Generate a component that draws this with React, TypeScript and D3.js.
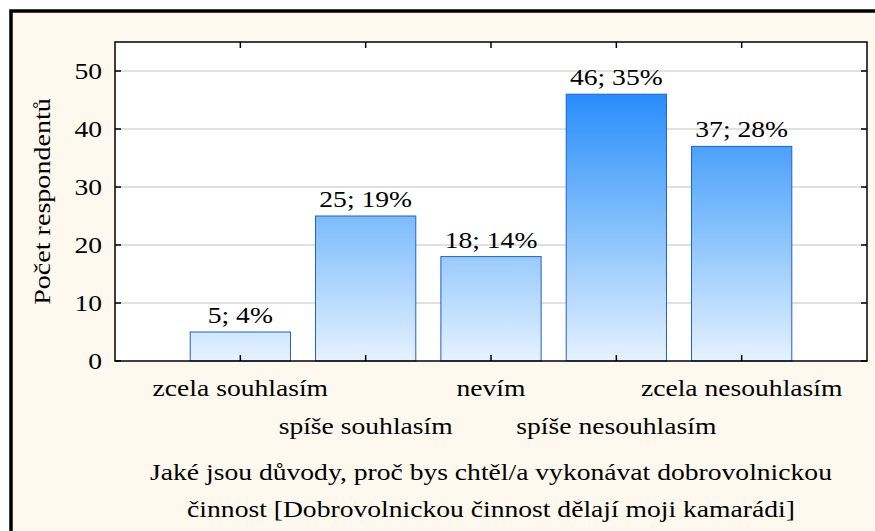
import React from "react";
import * as d3 from "d3";

const categories = [
  "zcela souhlasím",
  "spíše souhlasím",
  "nevím",
  "spíše nesouhlasím",
  "zcela nesouhlasím",
];
const counts = [5, 25, 18, 46, 37];
const percents = [4, 19, 14, 35, 28];
const yTicks = [0, 10, 20, 30, 40, 50];
const titleLines = [
  "Jaké jsou důvody, proč bys chtěl/a vykonávat dobrovolnickou",
  "činnost [Dobrovolnickou činnost dělají moji kamarádi]",
];
const yTitle = "Počet respondentů";

const W = 875;
const H = 531;
const FONT = "Liberation Serif";
const FS = 24;
const SX = 1.15; // the export stretches its Times text sideways

const plot = { left: 115, right: 867, top: 42, bottom: 361 };

// categories sit at 1..5 on a 0..6 axis
const x = d3
  .scaleLinear()
  .domain([0, categories.length + 1])
  .range([plot.left, plot.right]);
const y = d3.scaleLinear().domain([0, 55]).range([plot.bottom, plot.top]);
const barW = (x(1) - x(0)) * 0.8;

const Label = ({ tx, ty, anchor = "middle", children }) => (
  <text
    transform={`translate(${tx},${ty}) scale(${SX},1)`}
    textAnchor={anchor}
    fontFamily={FONT}
    fontSize={FS}
    fill="#000"
  >
    {children}
  </text>
);

const App = () => {
  const pw = plot.right - plot.left;
  const ph = plot.bottom - plot.top;
  const tickLen = 6;

  return (
    <svg
      width={W}
      height={H}
      style={{ position: "absolute", left: 0, top: 0, background: "#fff" }}
    >
      <defs>
        <linearGradient
          id="barGrad"
          gradientUnits="userSpaceOnUse"
          x1={0}
          x2={0}
          y1={y(47)}
          y2={y(0)}
        >
          <stop offset="0%" stopColor="#248bfb" />
          <stop offset="55%" stopColor="#8cc4fd" />
          <stop offset="100%" stopColor="#e6f2ff" />
        </linearGradient>
      </defs>

      {/* outer frame */}
      <rect
        x={11}
        y={11}
        width={W + 20}
        height={H + 20}
        fill="#fdf9ef"
        stroke="#000"
        strokeWidth={3.5}
      />
      <rect x={plot.left} y={plot.top} width={pw} height={ph} fill="#fff" />

      {/* gridlines */}
      {yTicks
        .filter((t) => t > 0)
        .map((t) => (
          <line
            key={"g" + t}
            x1={plot.left}
            x2={plot.right}
            y1={y(t)}
            y2={y(t)}
            stroke="#d6d6d6"
            strokeWidth={1.5}
          />
        ))}

      {/* bars */}
      {counts.map((d, i) => (
        <rect
          key={"b" + i}
          x={x(i + 1) - barW / 2}
          y={y(d)}
          width={barW}
          height={y(0) - y(d)}
          fill="url(#barGrad)"
          stroke="#1f5fd6"
          strokeWidth={1}
        />
      ))}
      {counts.map((d, i) => (
        <Label key={"l" + i} tx={x(i + 1)} ty={y(d) - 9}>
          {`${d}; ${percents[i]}%`}
        </Label>
      ))}

      {/* plot border */}
      <rect
        x={plot.left}
        y={plot.top}
        width={pw}
        height={ph}
        fill="none"
        stroke="#000"
        strokeWidth={1.5}
      />

      {/* inward ticks on all four sides */}
      {yTicks.map((t) => (
        <g key={"yt" + t} stroke="#000" strokeWidth={1.5}>
          <line x1={plot.left} x2={plot.left + tickLen} y1={y(t)} y2={y(t)} />
          <line
            x1={plot.right}
            x2={plot.right - tickLen}
            y1={y(t)}
            y2={y(t)}
          />
        </g>
      ))}
      {categories.map((c, i) => (
        <g key={"xt" + i} stroke="#000" strokeWidth={1.5}>
          <line
            x1={x(i + 1)}
            x2={x(i + 1)}
            y1={plot.bottom}
            y2={plot.bottom - tickLen}
          />
          <line
            x1={x(i + 1)}
            x2={x(i + 1)}
            y1={plot.top}
            y2={plot.top + tickLen}
          />
        </g>
      ))}

      {/* y tick labels */}
      {yTicks.map((t) => (
        <Label key={"yl" + t} tx={plot.left - 13} ty={y(t) + 8} anchor="end">
          {String(t)}
        </Label>
      ))}

      {/* category labels, alternating rows */}
      {categories.map((c, i) => (
        <Label key={"c" + i} tx={x(i + 1)} ty={i % 2 === 0 ? 396 : 434}>
          {c}
        </Label>
      ))}

      {/* y axis title */}
      <text
        transform={`translate(50,${(plot.top + plot.bottom) / 2}) rotate(-90) scale(1.17,1)`}
        textAnchor="middle"
        fontFamily={FONT}
        fontSize={FS}
        fill="#000"
      >
        {yTitle}
      </text>

      {/* x axis title */}
      {titleLines.map((s, i) => (
        <Label
          key={"t" + i}
          tx={(plot.left + plot.right) / 2}
          ty={480 + i * 37}
        >
          {s}
        </Label>
      ))}
    </svg>
  );
};

export default App;
